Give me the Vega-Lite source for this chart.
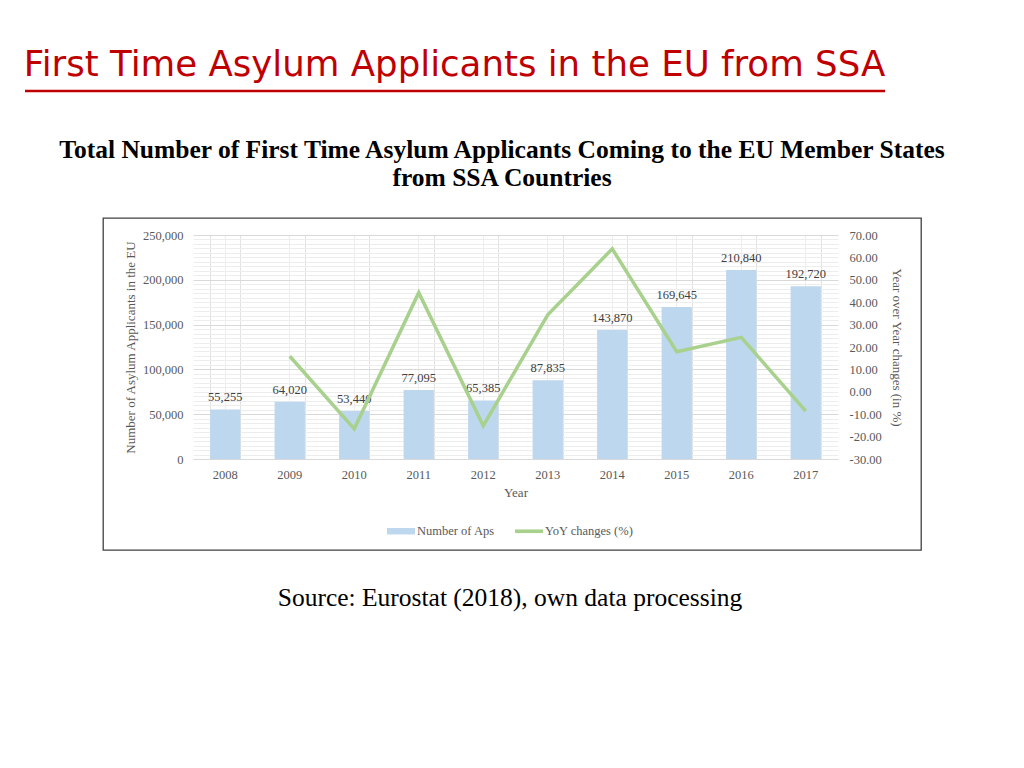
{
  "$schema": "https://vega.github.io/schema/vega-lite/v6.json",
  "background": "white",
  "padding": {"left": 23, "top": 48, "right": 0, "bottom": 0},
  "config": {
    "font": "Liberation Serif",
    "view": {"stroke": null},
    "axis": {"labelFont": "Liberation Serif", "titleFont": "Liberation Serif", "labelColor": "#595959", "titleColor": "#595959", "labelFontSize": 12.5, "titleFontSize": 13, "titleFontWeight": "normal", "labelOverlap": false}
  },
  "spacing": 43,
  "resolve": {"scale": {"color": "independent"}, "legend": {"color": "independent"}},
  "vconcat": [
    {
      "width": 860,
      "height": 1,
      "data": {"values": [{}]},
      "title": {"text": "First Time Asylum Applicants in the EU from SSA", "anchor": "start", "font": "DejaVu Sans", "fontSize": 35.6, "fontWeight": "normal", "color": "#C00000", "offset": 6},
      "mark": {"type": "rule", "color": "#C00000", "strokeWidth": 2.3},
      "encoding": {"y": {"datum": 0, "type": "quantitative", "axis": null}}
    },
    {
      "spacing": 35,
      "resolve": {"scale": {"color": "independent"}, "legend": {"color": "independent"}},
      "vconcat": [
        {
          "spacing": 0,
          "resolve": {"scale": {"color": "independent"}, "legend": {"color": "independent"}},
          "hconcat": [
            {
              "width": 31,
              "height": 332,
              "data": {"values": []},
              "mark": "point",
              "encoding": {}
            },
            {
              "width": 818,
              "height": 332,
              "view": {"stroke": "#404040", "strokeWidth": 1.3},
              "title": {"text": ["Total Number of First Time Asylum Applicants Coming to the EU Member States", "from SSA Countries"], "font": "Liberation Serif", "fontWeight": "bold", "fontSize": 25.5, "lineHeight": 28, "color": "black", "anchor": "middle", "dx": -10, "offset": 27},
              "data": {"values": [
                {"Year": "2008", "Aps": 55255, "YoY": null},
                {"Year": "2009", "Aps": 64020, "YoY": 15.86},
                {"Year": "2010", "Aps": 53440, "YoY": -16.53},
                {"Year": "2011", "Aps": 77095, "YoY": 44.26},
                {"Year": "2012", "Aps": 65385, "YoY": -15.19},
                {"Year": "2013", "Aps": 87835, "YoY": 34.34},
                {"Year": "2014", "Aps": 143870, "YoY": 63.80},
                {"Year": "2015", "Aps": 169645, "YoY": 17.92},
                {"Year": "2016", "Aps": 210840, "YoY": 24.28},
                {"Year": "2017", "Aps": 192720, "YoY": -8.59}
              ]},
              "layer": [
                {
                  "encoding": {
                    "y": {"field": "Aps", "type": "quantitative", "scale": {"domain": [0, 250000], "range": [241, 17], "nice": false},
                      "axis": {"title": "Number of Asylum Applicants in the EU", "orient": "left", "offset": -90,
                        "values": [0,5000,10000,15000,20000,25000,30000,35000,40000,45000,50000,55000,60000,65000,70000,75000,80000,85000,90000,95000,100000,105000,110000,115000,120000,125000,130000,135000,140000,145000,150000,155000,160000,165000,170000,175000,180000,185000,190000,195000,200000,205000,210000,215000,220000,225000,230000,235000,240000,245000,250000],
                        "labelExpr": "datum.value % 50000 === 0 ? format(datum.value, ',') : ''",
                        "labelOverlap": false, "domain": false, "ticks": false, "labelPadding": 10, "titlePadding": 5,
                        "grid": true,
                        "gridColor": {"condition": {"test": "datum.value % 50000 === 0", "value": "#D9D9D9"}, "value": "#EDEDED"}}}
                  },
                  "layer": [
                    {
                      "mark": {"type": "bar"},
                      "encoding": {
                        "x": {"field": "Year", "type": "ordinal", "scale": {"range": [90, 735], "paddingInner": 0.53, "paddingOuter": 0.265},
                          "axis": {"title": "Year", "orient": "bottom", "offset": -91, "labelAngle": 0, "domainColor": "#D9D9D9", "domainWidth": 1, "ticks": false, "labelPadding": 9, "titlePadding": 6, "grid": false}},
                        "color": {"datum": "Number of Aps", "type": "nominal",
                          "scale": {"domain": ["Number of Aps", "YoY changes (%)"], "range": ["#BDD7EE", "#A9D18E"]},
                          "legend": {"orient": "none", "legendX": 284, "legendY": 299, "direction": "horizontal", "title": null,
                            "symbolSize": 784, "labelFontSize": 12.5, "labelColor": "#595959", "labelFont": "Liberation Serif", "labelOffset": 2, "columnPadding": 20,
                            "encode": {"symbols": {"update": {
                              "shape": {"signal": "datum.value === 'Number of Aps' ? 'M-1,-0.23H1V0.23H-1Z' : 'M-1,-0.13H1V0.13H-1Z'"},
                              "fill": {"signal": "datum.value === 'Number of Aps' ? '#BDD7EE' : '#A9D18E'"},
                              "strokeWidth": {"value": 0},
                              "opacity": {"value": 1}}}}}}
                      }
                    },
                    {
                      "mark": {"type": "text", "dy": -8, "baseline": "alphabetic", "fontSize": 12.5, "color": "#404040", "font": "Liberation Serif"},
                      "encoding": {
                        "x": {"field": "Year", "type": "ordinal",
                          "axis": {"orient": "top", "labels": false, "ticks": false, "domain": false, "title": null, "grid": true, "tickBand": "center", "gridColor": "#EDEDED"}},
                        "text": {"field": "Aps", "type": "quantitative", "format": ","}
                      }
                    }
                  ],
                  "resolve": {"axis": {"x": "independent"}}
                },
                {
                  "mark": {"type": "line", "strokeWidth": 3.5},
                  "encoding": {
                    "x": {"field": "Year", "type": "ordinal",
                      "axis": {"orient": "top", "labels": false, "ticks": false, "domain": false, "title": null, "grid": true, "tickBand": "extent", "gridColor": "#E2E2E2"}},
                    "y": {"field": "YoY", "type": "quantitative", "scale": {"domain": [-30, 70], "range": [241, 17], "nice": false, "zero": false},
                      "axis": {"orient": "right", "offset": -83, "title": "Year over Year changes (in %)",
                        "values": [-30,-20,-10,0,10,20,30,40,50,60,70],
                        "labelExpr": "(datum.value < 0 ? '-' : '') + format(abs(datum.value), '.2f')",
                        "domain": false, "ticks": false, "labelPadding": 11, "titlePadding": 8, "grid": false}},
                    "color": {"datum": "YoY changes (%)", "type": "nominal"}
                  }
                }
              ],
              "resolve": {"scale": {"y": "independent"}, "axis": {"x": "independent"}}
            }
          ]
        },
        {
          "width": 970,
          "height": 2,
          "data": {"values": [{}]},
          "mark": {"type": "text", "font": "Liberation Serif", "fontSize": 25.5, "color": "black", "baseline": "middle"},
          "encoding": {"text": {"value": "Source: Eurostat (2018), own data processing"}}
        }
      ]
    }
  ]
}
